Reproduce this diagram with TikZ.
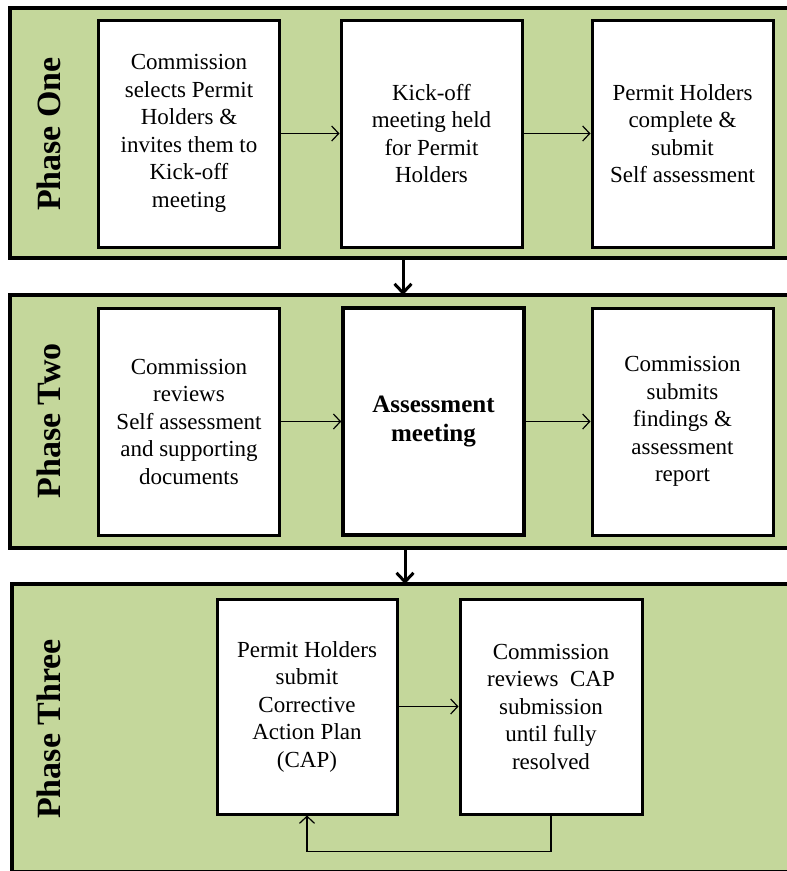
\documentclass[tikz,border=0pt]{standalone}
\usepackage{fontspec}
\setmainfont{Liberation Serif}
\usetikzlibrary{arrows.meta,positioning}
\definecolor{phasegreen}{HTML}{C4D79B}

\begin{document}
\begin{tikzpicture}[x=1pt,y=-1pt,
    phase/.style={draw=black,line width=3.5pt,fill=phasegreen,anchor=north west,inner sep=0pt,outer sep=0pt},
    phaselabel/.style={rotate=90,font=\fontsize{34}{39}\selectfont\bfseries},
    stepbox/.style={draw=black,line width=3pt,fill=white,align=center,inner sep=0pt,
      minimum width=181pt,minimum height=227pt,font=\fontsize{23}{27.5}\selectfont},
    flow/.style={-{Straight Barb[length=7pt,width=15pt]},line width=1.2pt},
    down/.style={-{Straight Barb[length=9pt,width=17pt]},line width=3pt}]
  \useasboundingbox (0,0) rectangle (787,871);
  % panels
  \node[phase,minimum width=800pt,minimum height=250pt] (p1) at (10,8) {};
  \node[phase,minimum width=800pt,minimum height=253pt] (p2) at (10,295) {};
  \node[phase,minimum width=800pt,minimum height=288pt] (p3) at (12,584) {};
  \node[phaselabel] (l1) at (49,134) {Phase One};
  \node[phaselabel] (l2) at (49,421) {Phase Two};
  \node[phaselabel] (l3) at (49,729) {Phase Three};
  % phase one
  \node[stepbox] (b11) at (189,133.5) {Commission\\selects Permit\\Holders \&\\invites them to\\Kick-off\\meeting};
  \node[stepbox] (b12) at (431.5,133.5) {Kick-off\\meeting held\\for Permit\\Holders};
  \node[stepbox] (b13) at (682.5,133.5) {Permit Holders\\complete \&\\submit\\Self assessment};
  % phase two
  \node[stepbox] (b21) at (189,421.5) {Commission\\reviews\\Self assessment\\and supporting\\documents};
  \node[stepbox,line width=3.5pt,font=\fontsize{25}{28.5}\selectfont\bfseries] (b22) at (433.5,421.5) {Assessment\\meeting};
  \node[stepbox] (b23) at (682.5,421.5) {Commission\\submits\\findings \&\\assessment\\report};
  % phase three
  \node[stepbox,minimum width=180pt,minimum height=215pt] (b31) at (307,706.5) {Permit Holders\\submit\\Corrective\\Action Plan\\(CAP)};
  \node[stepbox,minimum width=182pt,minimum height=215pt] (b32) at (551,706.5) {Commission\\reviews~~CAP\\submission\\until fully\\resolved};
  % connectors
  \draw[flow] (b11) -- (b12);
  \draw[flow] (b12) -- (b13);
  \draw[flow] (b21) -- (b22);
  \draw[flow] (b22) -- (b23);
  \draw[flow] (b31) -- (b32);
  \draw[flow] (b32.south) -- ++(0,36) -| (b31.south);
  \coordinate (m1) at (403,0);
  \coordinate (m2) at (405,0);
  \draw[down] (p1.south -| m1) -- (p2.north -| m1);
  \draw[down] (p2.south -| m2) -- (p3.north -| m2);
\end{tikzpicture}
\end{document}
